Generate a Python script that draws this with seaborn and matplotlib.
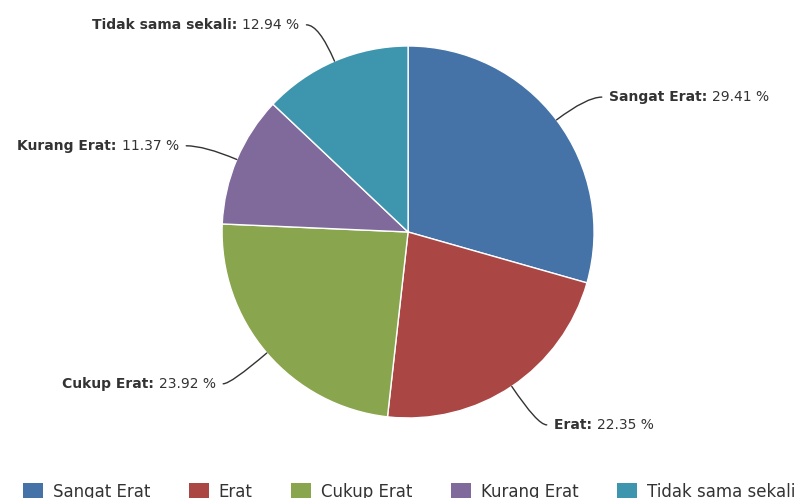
import numpy as np
import matplotlib
matplotlib.use("Agg")
import matplotlib.pyplot as plt
import matplotlib.patches as mpatches
import seaborn as sns

categories = ["Sangat Erat", "Erat", "Cukup Erat", "Kurang Erat", "Tidak sama sekali"]
percentages = [29.41, 22.35, 23.92, 11.37, 12.94]
colors = ["#4572A7", "#AA4643", "#89A54E", "#80699B", "#3D96AE"]

sns.set_style("white")
plt.rcParams["font.family"] = ["DejaVu Sans"]

fig = plt.figure(figsize=(8.02, 4.98), dpi=100)
ax = fig.add_axes([0, 0, 1, 1])

wedges, _ = ax.pie(percentages, colors=colors, startangle=90, counterclock=False,
                   radius=1.0, wedgeprops=dict(edgecolor="white", linewidth=1))

# pie() resets the limits, so fix them afterwards
ax.set_xlim(-2.194, 2.118)
ax.set_ylim(-1.430, 1.247)
ax.set_aspect("equal")
ax.axis("off")

label_r = 1.23
for w, name, pct in zip(wedges, categories, percentages):
    theta = np.deg2rad((w.theta1 + w.theta2) / 2)
    c, s = np.cos(theta), np.sin(theta)
    side = 1 if c >= 0 else -1
    edge = (c, s)
    bend = (label_r * c, label_r * s - 0.016)
    end = (bend[0] + side * 0.06, bend[1])
    ax.annotate("", xy=edge, xytext=end,
                arrowprops=dict(arrowstyle="-", color="#333333", lw=1.0,
                                shrinkA=0, shrinkB=0,
                                connectionstyle=f"angle3,angleA=0,angleB={np.rad2deg(theta)}"))
    tx = end[0] + side * 0.04
    if side > 0:
        t1 = ax.text(tx, end[1], f"{name}: ", ha="left", va="center",
                     fontsize=10, fontweight="bold", color="#333333")
        ax.annotate(f"{pct:.2f} %", xy=(1, 0), xycoords=t1, ha="left", va="bottom",
                    fontsize=10, color="#333333")
    else:
        t2 = ax.text(tx, end[1], f"{pct:.2f} %", ha="right", va="center",
                     fontsize=10, color="#333333")
        ax.annotate(f"{name}: ", xy=(0, 0), xycoords=t2, ha="right", va="bottom",
                    fontsize=10, fontweight="bold", color="#333333")

handles = [mpatches.Patch(facecolor=col, edgecolor="none", label=cat)
           for cat, col in zip(categories, colors)]
fig.legend(handles=handles, loc="center", bbox_to_anchor=(0.51, 1 - 492 / 498),
           ncol=5, frameon=False, fontsize=12, handlelength=1.2, handleheight=1.2,
           handletextpad=0.6, columnspacing=2.3, labelcolor="#333333")

fig.savefig("out.png", dpi=100)
